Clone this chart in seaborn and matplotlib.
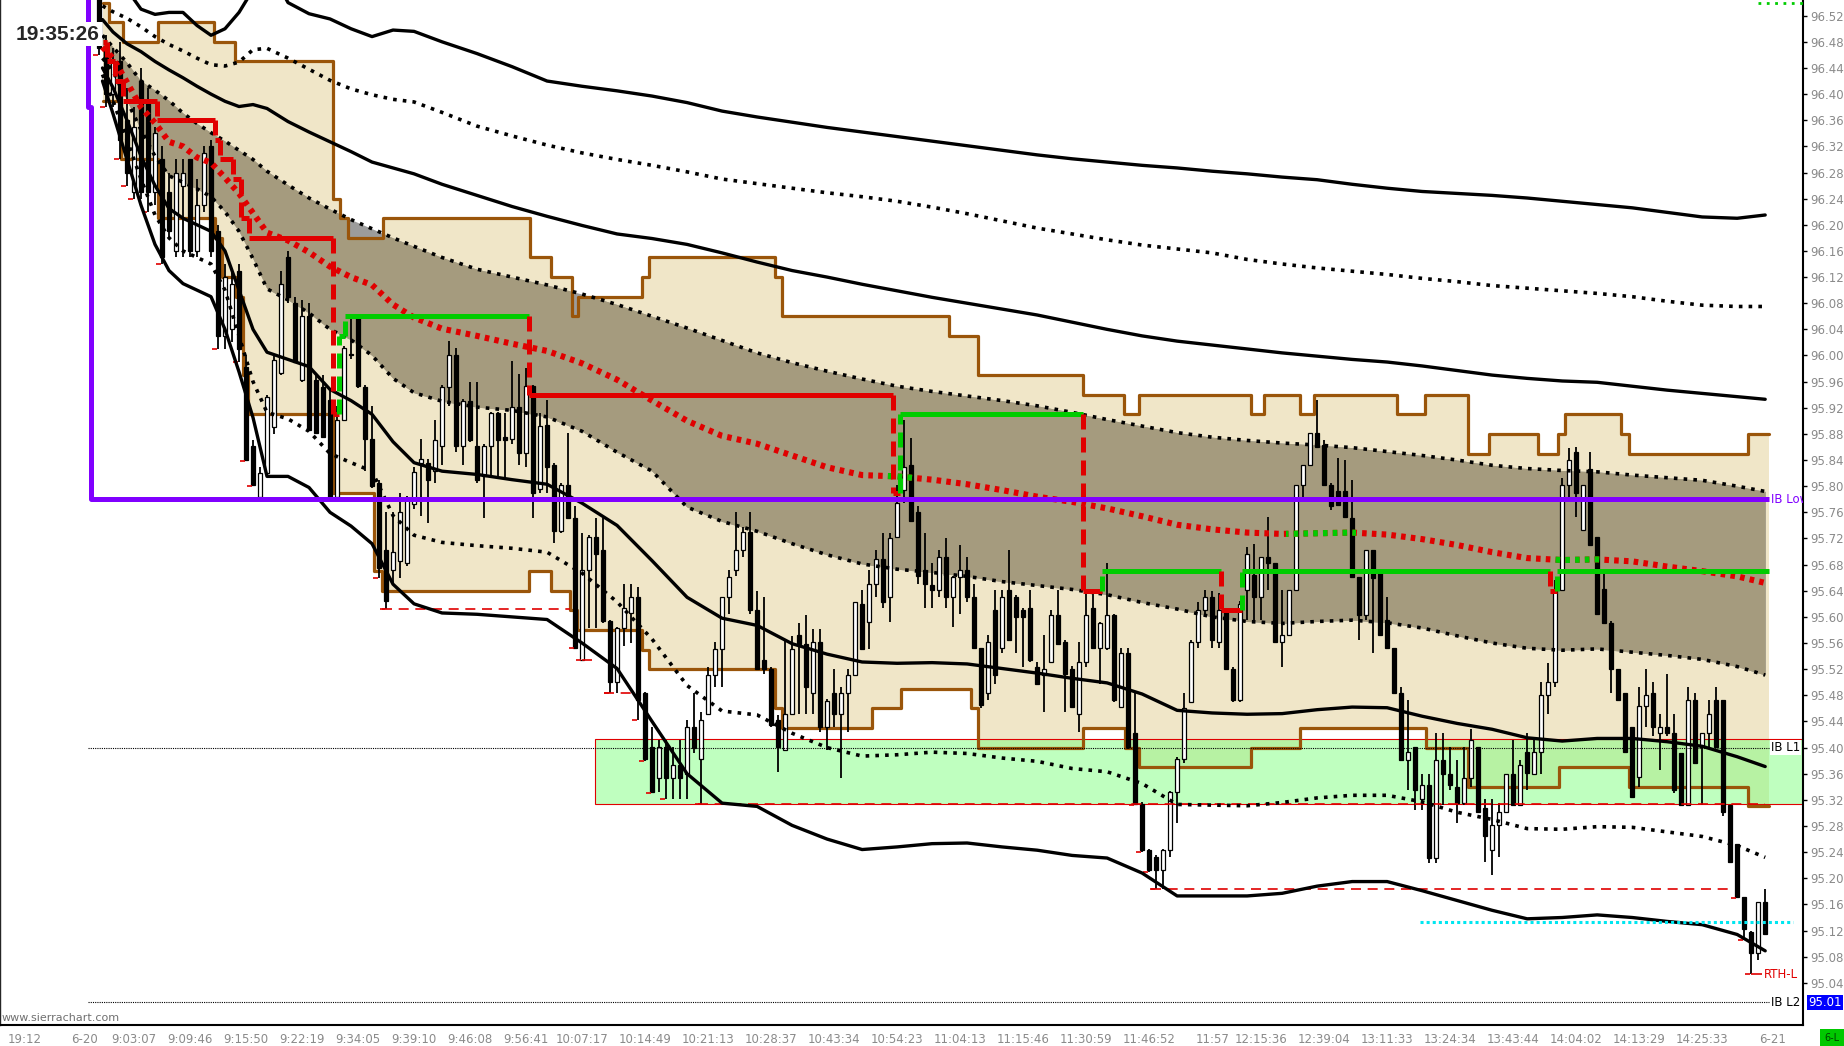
import numpy as np
import pandas as pd
import matplotlib
matplotlib.use("Agg")
import matplotlib.pyplot as plt
from matplotlib import font_manager
from matplotlib.patches import Rectangle
import seaborn as sns

# ---------------- candles (x = bar index 1..239) ----------------
opens = [
    96.545, 96.470, 96.400, 96.450, 96.360, 96.250, 96.420, 96.390, 96.250, 96.300,
    96.250, 96.160, 96.260, 96.300, 96.160, 96.230, 96.320, 96.190, 96.030, 96.040,
    96.130, 95.983, 95.861, 95.784, 95.820, 95.891, 95.973, 96.150, 96.080, 95.963,
    96.060, 95.963, 95.952, 95.932, 95.784, 95.902, 96.003, 96.060, 95.952, 95.872,
    95.805, 95.702, 95.672, 95.685, 95.682, 95.772, 95.835, 95.835, 95.823, 95.861,
    95.952, 96.001, 95.861, 95.931, 95.861, 95.815, 95.861, 95.912, 95.875, 95.872,
    95.921, 95.851, 95.953, 95.795, 95.893, 95.833, 95.731, 95.802, 95.751, 95.534,
    95.672, 95.723, 95.702, 95.593, 95.501, 95.583, 95.606, 95.631, 95.483, 95.401,
    95.353, 95.401, 95.353, 95.373, 95.360, 95.432, 95.383, 95.452, 95.511, 95.551,
    95.631, 95.671, 95.702, 95.730, 95.610, 95.534, 95.521, 95.442, 95.396, 95.452,
    95.572, 95.559, 95.483, 95.562, 95.432, 95.483, 95.452, 95.483, 95.511, 95.620,
    95.592, 95.651, 95.689, 95.631, 95.723, 95.794, 95.832, 95.761, 95.671, 95.649,
    95.641, 95.692, 95.631, 95.661, 95.671, 95.631, 95.552, 95.483, 95.610, 95.552,
    95.641, 95.631, 95.610, 95.613, 95.524, 95.511, 95.531, 95.603, 95.562, 95.521,
    95.452, 95.531, 95.613, 95.552, 95.552, 95.603, 95.462, 95.544, 95.422, 95.314,
    95.243, 95.233, 95.212, 95.243, 95.332, 95.383, 95.470, 95.562, 95.610, 95.631,
    95.562, 95.610, 95.521, 95.473, 95.641, 95.664, 95.631, 95.692, 95.682, 95.562,
    95.572, 95.641, 95.802, 95.832, 95.881, 95.863, 95.802, 95.792, 95.792, 95.751,
    95.661, 95.603, 95.702, 95.672, 95.595, 95.552, 95.483, 95.381, 95.401, 95.321,
    95.343, 95.231, 95.381, 95.360, 95.340, 95.315, 95.353, 95.401, 95.307, 95.243,
    95.281, 95.302, 95.360, 95.312, 95.394, 95.360, 95.394, 95.480, 95.500, 95.641,
    95.802, 95.853, 95.733, 95.827, 95.723, 95.643, 95.590, 95.521, 95.483, 95.432,
    95.355, 95.463, 95.483, 95.422, 95.432, 95.422, 95.391, 95.312, 95.473, 95.401,
    95.422, 95.473, 95.473, 95.312, 95.253, 95.172, 95.118, 95.085, 95.164,
]
highs = [
    96.548, 96.490, 96.470, 96.480, 96.410, 96.380, 96.440, 96.410, 96.350, 96.320,
    96.280, 96.300, 96.300, 96.300, 96.270, 96.320, 96.330, 96.200, 96.140, 96.130,
    96.140, 96.000, 95.870, 95.830, 95.940, 96.000, 96.130, 96.160, 96.090, 96.085,
    96.080, 95.970, 95.970, 95.950, 95.922, 96.014, 96.060, 96.062, 95.955, 95.922,
    95.810, 95.760, 95.760, 95.790, 95.785, 95.830, 95.872, 95.841, 95.902, 95.955,
    96.022, 96.011, 95.933, 95.960, 95.960, 95.864, 95.914, 95.914, 95.912, 95.991,
    95.971, 95.981, 95.955, 95.912, 95.932, 95.835, 95.805, 95.881, 95.769, 95.728,
    95.725, 95.751, 95.751, 95.595, 95.585, 95.651, 95.651, 95.646, 95.485, 95.432,
    95.411, 95.411, 95.401, 95.411, 95.442, 95.483, 95.455, 95.523, 95.562, 95.631,
    95.671, 95.760, 95.738, 95.760, 95.640, 95.631, 95.523, 95.450, 95.564, 95.571,
    95.590, 95.603, 95.582, 95.582, 95.474, 95.521, 95.493, 95.521, 95.623, 95.641,
    95.671, 95.702, 95.728, 95.728, 95.802, 95.901, 95.873, 95.770, 95.728, 95.682,
    95.702, 95.720, 95.663, 95.710, 95.692, 95.651, 95.552, 95.572, 95.641, 95.641,
    95.702, 95.633, 95.613, 95.641, 95.531, 95.572, 95.610, 95.641, 95.565, 95.525,
    95.562, 95.641, 95.641, 95.592, 95.682, 95.605, 95.552, 95.552, 95.483, 95.316,
    95.245, 95.235, 95.245, 95.334, 95.385, 95.483, 95.564, 95.623, 95.641, 95.640,
    95.636, 95.612, 95.523, 95.625, 95.707, 95.712, 95.692, 95.753, 95.682, 95.641,
    95.641, 95.802, 95.832, 95.881, 95.932, 95.871, 95.805, 95.843, 95.840, 95.809,
    95.661, 95.702, 95.702, 95.672, 95.631, 95.552, 95.493, 95.473, 95.401, 95.360,
    95.360, 95.422, 95.422, 95.401, 95.381, 95.401, 95.429, 95.401, 95.322, 95.322,
    95.315, 95.360, 95.411, 95.381, 95.422, 95.411, 95.500, 95.529, 95.656, 95.812,
    95.858, 95.860, 95.802, 95.853, 95.723, 95.672, 95.593, 95.521, 95.483, 95.432,
    95.493, 95.521, 95.501, 95.452, 95.513, 95.452, 95.391, 95.493, 95.483, 95.422,
    95.473, 95.493, 95.473, 95.312, 95.253, 95.172, 95.120, 95.164, 95.184,
]
lows = [
    96.460, 96.380, 96.380, 96.300, 96.260, 96.240, 96.240, 96.220, 96.230, 96.140,
    96.180, 96.150, 96.150, 96.150, 96.150, 96.220, 96.150, 96.010, 96.010, 96.020,
    95.990, 95.838, 95.800, 95.781, 95.815, 95.880, 95.970, 96.080, 95.988, 95.960,
    95.886, 95.880, 95.875, 95.781, 95.780, 95.900, 95.994, 95.950, 95.823, 95.798,
    95.660, 95.612, 95.650, 95.660, 95.678, 95.765, 95.754, 95.744, 95.805, 95.833,
    95.922, 95.853, 95.833, 95.868, 95.805, 95.751, 95.815, 95.815, 95.812, 95.864,
    95.833, 95.830, 95.751, 95.790, 95.790, 95.713, 95.728, 95.750, 95.552, 95.534,
    95.583, 95.583, 95.590, 95.483, 95.483, 95.555, 95.560, 95.442, 95.380, 95.330,
    95.332, 95.322, 95.322, 95.322, 95.322, 95.391, 95.314, 95.452, 95.493, 95.493,
    95.605, 95.663, 95.692, 95.605, 95.518, 95.513, 95.432, 95.362, 95.396, 95.452,
    95.452, 95.452, 95.452, 95.424, 95.396, 95.432, 95.353, 95.424, 95.511, 95.551,
    95.551, 95.631, 95.613, 95.592, 95.720, 95.774, 95.746, 95.650, 95.613, 95.613,
    95.631, 95.613, 95.585, 95.605, 95.623, 95.552, 95.460, 95.473, 95.498, 95.544,
    95.564, 95.544, 95.524, 95.531, 95.498, 95.455, 95.531, 95.559, 95.455, 95.460,
    95.424, 95.524, 95.552, 95.498, 95.550, 95.470, 95.460, 95.398, 95.312, 95.240,
    95.210, 95.183, 95.183, 95.233, 95.284, 95.376, 95.468, 95.552, 95.605, 95.552,
    95.552, 95.518, 95.470, 95.470, 95.595, 95.593, 95.595, 95.641, 95.562, 95.524,
    95.570, 95.641, 95.784, 95.832, 95.860, 95.802, 95.764, 95.771, 95.753, 95.661,
    95.565, 95.595, 95.544, 95.572, 95.552, 95.483, 95.381, 95.335, 95.304, 95.304,
    95.223, 95.223, 95.312, 95.335, 95.284, 95.312, 95.340, 95.300, 95.225, 95.205,
    95.233, 95.300, 95.312, 95.310, 95.335, 95.360, 95.360, 95.452, 95.493, 95.641,
    95.784, 95.753, 95.733, 95.710, 95.605, 95.590, 95.483, 95.473, 95.394, 95.325,
    95.340, 95.432, 95.417, 95.366, 95.417, 95.330, 95.312, 95.312, 95.376, 95.312,
    95.401, 95.401, 95.295, 95.225, 95.170, 95.105, 95.053, 95.075, 95.115,
]
closes = [
    96.470, 96.400, 96.450, 96.330, 96.280, 96.350, 96.250, 96.250, 96.340, 96.150,
    96.190, 96.280, 96.280, 96.160, 96.230, 96.310, 96.160, 96.030, 96.120, 96.110,
    96.010, 95.840, 95.802, 95.820, 95.937, 95.993, 96.110, 96.090, 95.990, 96.060,
    95.886, 95.881, 95.876, 95.784, 95.902, 96.011, 96.000, 95.953, 95.872, 95.800,
    95.675, 95.625, 95.700, 95.760, 95.782, 95.821, 95.841, 95.810, 95.871, 95.952,
    96.001, 95.861, 95.931, 95.871, 95.810, 95.861, 95.912, 95.871, 95.870, 95.921,
    95.851, 95.953, 95.790, 95.892, 95.830, 95.731, 95.802, 95.751, 95.552, 95.672,
    95.723, 95.697, 95.593, 95.501, 95.583, 95.613, 95.631, 95.473, 95.383, 95.332,
    95.401, 95.353, 95.373, 95.353, 95.432, 95.399, 95.442, 95.511, 95.551, 95.631,
    95.661, 95.702, 95.730, 95.610, 95.521, 95.521, 95.434, 95.401, 95.452, 95.551,
    95.559, 95.493, 95.562, 95.432, 95.472, 95.452, 95.483, 95.511, 95.623, 95.551,
    95.651, 95.689, 95.623, 95.720, 95.774, 95.830, 95.746, 95.662, 95.651, 95.641,
    95.692, 95.631, 95.661, 95.671, 95.631, 95.552, 95.465, 95.562, 95.511, 95.631,
    95.564, 95.600, 95.600, 95.534, 95.498, 95.521, 95.603, 95.559, 95.513, 95.462,
    95.531, 95.603, 95.552, 95.590, 95.603, 95.473, 95.544, 95.401, 95.314, 95.243,
    95.212, 95.212, 95.243, 95.332, 95.383, 95.460, 95.562, 95.610, 95.631, 95.564,
    95.610, 95.521, 95.473, 95.620, 95.697, 95.631, 95.692, 95.682, 95.562, 95.572,
    95.641, 95.802, 95.832, 95.881, 95.860, 95.802, 95.769, 95.771, 95.753, 95.661,
    95.603, 95.702, 95.659, 95.572, 95.552, 95.483, 95.381, 95.394, 95.335, 95.343,
    95.231, 95.381, 95.360, 95.343, 95.315, 95.353, 95.411, 95.302, 95.264, 95.281,
    95.302, 95.360, 95.312, 95.373, 95.361, 95.394, 95.480, 95.500, 95.641, 95.802,
    95.840, 95.789, 95.802, 95.710, 95.605, 95.590, 95.521, 95.473, 95.394, 95.325,
    95.463, 95.480, 95.432, 95.432, 95.422, 95.335, 95.312, 95.473, 95.376, 95.422,
    95.452, 95.401, 95.302, 95.225, 95.172, 95.123, 95.085, 95.164, 95.115,
]

# ---------------- time axis ----------------
tick_bars = [-12, -1, 6, 14, 22, 30, 38, 46, 54, 62, 70, 79, 88, 97, 106, 115,
             124, 133, 142, 151, 160, 167, 176, 185, 194, 203, 212, 221, 230, 240]
tick_labels = ["19:12", "6-20", "9:03:07", "9:09:46", "9:15:50", "9:22:19", "9:34:05",
               "9:39:10", "9:46:08", "9:56:41", "10:07:17", "10:14:49", "10:21:13",
               "10:28:37", "10:43:34", "10:54:23", "11:04:13", "11:15:46", "11:30:59",
               "11:46:52", "11:57", "12:15:36", "12:39:04", "13:11:33", "13:24:34",
               "13:43:44", "14:04:02", "14:13:29", "14:25:33", "6-21"]

# ---------------- VWAP and std-dev bands, read at band_x ----------------
band_x = [1.5, 3, 5, 7, 9, 11, 13, 15, 17, 19, 21, 23, 25, 28, 31, 34, 37, 40, 43, 46,
          50, 55, 60, 65, 70, 75, 80, 85, 90, 95, 100, 105, 110, 115, 120, 125, 130,
          135, 140, 145, 150, 155, 160, 165, 170, 175, 180, 185, 190, 195, 200, 205,
          210, 215, 220, 225, 230, 235, 239]
nan = np.nan
vwap = [96.472, 96.455, 96.418, 96.380, 96.356, 96.327, 96.320, 96.303, 96.295, 96.272,
        96.248, 96.218, 96.188, 96.176, 96.158, 96.136, 96.120, 96.108, 96.078, 96.058,
        96.041, 96.030, 96.018, 96.007, 95.988, 95.963, 95.931, 95.900, 95.877, 95.865,
        95.847, 95.829, 95.817, 95.815, 95.810, 95.803, 95.794, 95.784, 95.776, 95.766,
        95.754, 95.741, 95.734, 95.729, 95.727, 95.728, 95.729, 95.726, 95.719, 95.710,
        95.699, 95.690, 95.687, 95.688, 95.685, 95.677, 95.670, 95.662, 95.652]
band_p4 = [nan, nan, 96.56, 96.53, 96.522, 96.525, 96.525, 96.505, 96.490, 96.500,
           96.525, 96.56, 96.60, 96.540, 96.523, 96.515, 96.500, 96.488, 96.498, 96.496,
           96.480, 96.462, 96.442, 96.420, 96.412, 96.405, 96.397, 96.387, 96.374, 96.365,
           96.357, 96.349, 96.342, 96.335, 96.328, 96.321, 96.314, 96.307, 96.301, 96.296,
           96.291, 96.287, 96.282, 96.278, 96.273, 96.269, 96.262, 96.256, 96.251, 96.248,
           96.245, 96.241, 96.236, 96.231, 96.226, 96.219, 96.212, 96.210, 96.215]
band_p3 = [96.535, 96.526, 96.516, 96.503, 96.488, 96.476, 96.466, 96.455, 96.445, 96.443,
           96.449, 96.468, 96.470, 96.455, 96.438, 96.421, 96.408, 96.399, 96.392, 96.388,
           96.372, 96.351, 96.336, 96.322, 96.310, 96.300, 96.291, 96.281, 96.270, 96.263,
           96.256, 96.249, 96.243, 96.236, 96.227, 96.217, 96.206, 96.195, 96.186, 96.177,
           96.169, 96.163, 96.157, 96.147, 96.140, 96.134, 96.129, 96.124, 96.118, 96.113,
           96.107, 96.103, 96.099, 96.095, 96.090, 96.083, 96.077, 96.075, 96.075]
band_p2 = [96.514, 96.495, 96.477, 96.465, 96.450, 96.437, 96.425, 96.412, 96.400, 96.389,
           96.381, 96.384, 96.378, 96.358, 96.342, 96.327, 96.312, 96.296, 96.287, 96.278,
           96.262, 96.245, 96.228, 96.213, 96.199, 96.186, 96.179, 96.170, 96.157, 96.143,
           96.130, 96.120, 96.109, 96.099, 96.089, 96.080, 96.071, 96.062, 96.051, 96.040,
           96.030, 96.022, 96.016, 96.010, 96.004, 95.999, 95.994, 95.990, 95.984, 95.977,
           95.970, 95.965, 95.961, 95.959, 95.953, 95.947, 95.942, 95.937, 95.933]
band_p1 = [96.490, 96.472, 96.448, 96.420, 96.406, 96.390, 96.371, 96.355, 96.341, 96.328,
           96.314, 96.300, 96.282, 96.261, 96.241, 96.224, 96.208, 96.194, 96.180, 96.167,
           96.150, 96.132, 96.120, 96.108, 96.094, 96.078, 96.060, 96.042, 96.023, 96.004,
           95.989, 95.976, 95.964, 95.953, 95.945, 95.938, 95.931, 95.923, 95.913, 95.902,
           95.892, 95.882, 95.875, 95.870, 95.866, 95.863, 95.859, 95.853, 95.847, 95.840,
           95.832, 95.827, 95.824, 95.822, 95.817, 95.813, 95.809, 95.800, 95.792]
band_m1 = [96.455, 96.435, 96.390, 96.345, 96.305, 96.275, 96.265, 96.255, 96.243, 96.220,
           96.190, 96.148, 96.102, 96.085, 96.065, 96.040, 96.024, 96.000, 95.965, 95.943,
           95.930, 95.921, 95.916, 95.906, 95.884, 95.852, 95.823, 95.768, 95.746, 95.731,
           95.712, 95.695, 95.681, 95.673, 95.668, 95.662, 95.654, 95.648, 95.642, 95.634,
           95.622, 95.612, 95.600, 95.593, 95.590, 95.593, 95.595, 95.591, 95.583, 95.571,
           95.560, 95.552, 95.549, 95.551, 95.546, 95.541, 95.535, 95.524, 95.511]
band_m2 = [96.440, 96.410, 96.360, 96.305, 96.260, 96.225, 96.210, 96.200, 96.190, 96.160,
           96.100, 96.040, 96.005, 95.994, 95.983, 95.948, 95.931, 95.910, 95.868, 95.836,
           95.823, 95.818, 95.810, 95.803, 95.774, 95.740, 95.686, 95.630, 95.598, 95.587,
           95.559, 95.543, 95.531, 95.529, 95.530, 95.528, 95.521, 95.514, 95.506, 95.499,
           95.482, 95.457, 95.453, 95.451, 95.452, 95.458, 95.462, 95.461, 95.448, 95.437,
           95.428, 95.415, 95.410, 95.414, 95.414, 95.409, 95.402, 95.386, 95.371]
band_m3 = [96.430, 96.390, 96.330, 96.270, 96.215, 96.180, 96.160, 96.150, 96.140, 96.100,
           96.030, 95.960, 95.913, 95.903, 95.884, 95.850, 95.836, 95.823, 95.755, 95.725,
           95.714, 95.709, 95.705, 95.699, 95.667, 95.623, 95.566, 95.495, 95.456, 95.450,
           95.422, 95.400, 95.387, 95.389, 95.393, 95.391, 95.384, 95.379, 95.368, 95.363,
           95.345, 95.313, 95.312, 95.311, 95.316, 95.323, 95.327, 95.327, 95.317, 95.301,
           95.290, 95.276, 95.275, 95.279, 95.278, 95.271, 95.264, 95.250, 95.232]
band_m4 = [96.420, 96.370, 96.300, 96.230, 96.170, 96.130, 96.110, 96.100, 96.090, 96.040,
           95.975, 95.905, 95.815, 95.815, 95.798, 95.760, 95.739, 95.712, 95.650, 95.620,
           95.606, 95.604, 95.600, 95.596, 95.560, 95.521, 95.440, 95.360, 95.315, 95.310,
           95.281, 95.260, 95.244, 95.248, 95.253, 95.254, 95.248, 95.243, 95.235, 95.231,
           95.208, 95.173, 95.173, 95.173, 95.177, 95.188, 95.195, 95.195, 95.181, 95.166,
           95.151, 95.138, 95.140, 95.144, 95.140, 95.134, 95.129, 95.114, 95.089]
vwap_green = [(113.5, 117.5), (170.5, 180.5), (208.5, 215.5)]

# ---------------- value-area steps (edges, levels) ----------------
va_up_x = [1.6, 2.4, 4.5, 9.4, 17.4, 20.4, 34.4, 35.4, 36.5, 41.5, 62.5, 65.5, 68.5,
           69.4, 78.6, 79.5, 97.5, 98.5, 122.4, 126.5, 141.5, 147.4, 149.5, 165.5,
           167.4, 172.5, 174.5, 186.4, 190.4, 196.5, 199.5, 206.5, 209.4, 210.4, 218.4,
           219.5, 236.5, 239.5]
va_hi = [96.54, 96.51, 96.48, 96.51, 96.48, 96.45, 96.24, 96.21, 96.18, 96.21, 96.15,
         96.12, 96.06, 96.09, 96.12, 96.15, 96.12, 96.06, 96.03, 95.97, 95.94, 95.91,
         95.94, 95.91, 95.94, 95.91, 95.94, 95.91, 95.94, 95.85, 95.88, 95.85, 95.88,
         95.91, 95.88, 95.85, 95.88]
va_lo_x = [1.6, 4.2, 9.4, 17.5, 18.6, 20.6, 21.5, 22.3, 34.4, 40.3, 41.4, 62.4, 65.5,
           68.3, 69.3, 78.5, 79.5, 97.6, 98.6, 111.4, 115.5, 125.6, 126.6, 141.5, 147.5,
           149.5, 165.5, 172.5, 190.5, 196.6, 209.5, 219.6, 236.6, 239.6]
va_lo = [96.39, 96.30, 96.21, 96.18, 96.12, 96.09, 95.97, 95.91, 95.79, 95.67, 95.64,
         95.67, 95.64, 95.61, 95.58, 95.55, 95.52, 95.46, 95.43, 95.46, 95.49, 95.46,
         95.40, 95.43, 95.40, 95.37, 95.40, 95.43, 95.40, 95.34, 95.37, 95.34, 95.31]

# ---------------- developing POC steps ----------------
poc_x = [1.6, 2.2, 3.3, 4.4, 9.3, 17.5, 18.3, 20.2, 21.3, 22.4, 34.4, 35.3, 36.2,
         62.4, 114.4, 115.4, 141.5, 144.3, 161.3, 164.3, 208.3, 209.3, 239.6]
poc_lvl = [96.48, 96.45, 96.42, 96.39, 96.36, 96.33, 96.30, 96.27, 96.21, 96.18,
           95.91, 96.03, 96.06, 95.94, 95.79, 95.91, 95.64, 95.67, 95.61, 95.67,
           95.64, 95.67]

# ---------------- horizontal levels ----------------
ib_low = 95.78
ib_l1 = 95.40
ib_l2 = 95.01
zone_x0, zone_lo, zone_hi = 71.9, 95.313, 95.413
swing_lows = [(23.4, 40.3, 95.781), (41.4, 68.3, 95.612), (70.0, 72.0, 95.534),
              (73.2, 77.3, 95.483), (86.6, 239.0, 95.313), (151.3, 234.6, 95.183)]
cyan_x0, cyan_x1, cyan_y = 189.7, 243.0, 95.133
rth_low = 95.053

# ---------------- style ----------------
sns.set_style("white")
names = {f.name for f in font_manager.fontManager.ttflist}
NARROW = "Liberation Sans Narrow" if "Liberation Sans Narrow" in names else "DejaVu Sans"
SMALL = 10.5 if NARROW != "DejaVu Sans" else 8.5
plt.rcParams["font.family"] = [NARROW, "DejaVu Sans"]

BEIGE = "#f0e6c8"
BAND = "#a59b7e"
BAND_OUT = "#9c9c9c"
BROWN = "#9a550a"
RED = "#e00000"
GREEN = "#00cc00"
PURPLE = "#8000ff"
GREYTXT = "#8a8a8a"
DOT = (0, (1, 1.7))

fig = plt.figure(figsize=(18.44, 10.46), dpi=100)
ax = fig.add_axes([0.0, 21 / 1046, 1803 / 1844, 1025 / 1046])
ax.set_xlim(-13.14, 244.4)
ax.set_ylim(94.9755, 96.544)

# value area fill
xs = np.union1d(va_up_x, va_lo_x)
iu = np.clip(np.searchsorted(va_up_x, xs, side="right") - 1, 0, len(va_hi) - 1)
il = np.clip(np.searchsorted(va_lo_x, xs, side="right") - 1, 0, len(va_lo) - 1)
va_poly = ax.fill_between(xs, np.array(va_lo)[il], np.array(va_hi)[iu], step="post",
                          color=BEIGE, lw=0, zorder=1)

# 1-sigma band: neutral grey outside the value area, brownish grey inside it
ax.fill_between(band_x, band_m1, band_p1, color=BAND_OUT, lw=0, zorder=1.4)
inner = ax.fill_between(band_x, band_m1, band_p1, color=BAND, lw=0, zorder=1.5)
inner.set_clip_path(va_poly.get_paths()[0], transform=ax.transData)

# IB L1 zone
ax.add_patch(Rectangle((zone_x0, zone_lo), 250 - zone_x0, zone_hi - zone_lo,
                       facecolor=(0.5, 1.0, 0.5), alpha=0.5, lw=0, zorder=1.8))
ax.add_patch(Rectangle((zone_x0, zone_lo), 250 - zone_x0, zone_hi - zone_lo,
                       fill=False, edgecolor=RED, lw=0.8, zorder=1.9))

ax.step(va_up_x, va_hi + [va_hi[-1]], where="post", color=BROWN, lw=2.3, zorder=2)
ax.step(va_lo_x, va_lo + [va_lo[-1]], where="post", color=BROWN, lw=2.3, zorder=2)

# candles
bars = np.arange(1, len(opens) + 1)
o, h, l, c = (np.array(v) for v in (opens, highs, lows, closes))
up = c >= o
ax.vlines(bars, l, h, color="black", lw=1.3, zorder=2.5)
ax.bar(bars, np.maximum(np.abs(c - o), 0.002), bottom=np.minimum(o, c), width=0.62,
       color=np.where(up, "white", "black"), edgecolor="black", linewidth=0.9, zorder=2.6)

# red marks at new session lows and the swing-low lines
run_min = np.minimum.accumulate(l)
new_low = l < np.r_[np.inf, run_min[:-1]]
ax.hlines(l[new_low], bars[new_low] - 0.9, bars[new_low] - 0.1, color=RED, lw=1.2, zorder=2.7)
for x0, x1, y in swing_lows:
    ax.hlines(y, x0, x1, color=RED, lw=1.2, linestyles=[(0, (6, 4))], zorder=2.7)

# std-dev band lines (seaborn)
bands = pd.DataFrame({"bar": band_x, "p4": band_p4, "p3": band_p3, "p2": band_p2,
                      "m2": band_m2, "m3": band_m3, "m4": band_m4,
                      "p1": band_p1, "m1": band_m1})
for col, solid in [("p4", True), ("p3", False), ("p2", True), ("p1", False),
                   ("m1", False), ("m2", True), ("m3", False), ("m4", True)]:
    sns.lineplot(data=bands, x="bar", y=col, ax=ax, color="black",
                 lw=2.4 if solid else 2.6, estimator=None, sort=False, legend=False)
    ln = ax.lines[-1]
    ln.set_zorder(3)
    if not solid:
        ln.set_linestyle(DOT)
ax.set_xlabel("")
ax.set_ylabel("")

# VWAP (green where price traded above it)
ax.plot(band_x, vwap, color=RED, lw=4.4, ls=(0, (0.75, 0.85)), zorder=3.5)
for a, b in vwap_green:
    g, = ax.plot(band_x, vwap, color=GREEN, lw=4.4, ls=(0, (0.75, 0.85)), zorder=3.55)
    g.set_clip_path(Rectangle((a, 94.0), b - a, 3.0, transform=ax.transData))

# developing POC
for i, lvl in enumerate(poc_lvl):
    col = GREEN if i > 0 and lvl > poc_lvl[i - 1] else RED
    ax.hlines(lvl, poc_x[i], poc_x[i + 1], color=col, lw=3.6, zorder=3.6)
    if i > 0:
        ax.plot([poc_x[i], poc_x[i]], [poc_lvl[i - 1], lvl], color=col, lw=3.6,
                ls=(0, (3, 1.6)), zorder=3.6)

# IB lines and other levels
ax.plot([-0.5, -0.5], [96.38, 96.6], color=PURPLE, lw=3.6, zorder=3.7)
ax.plot([-0.2, -0.2], [ib_low, 96.38], color=PURPLE, lw=3.6, zorder=3.7)
ax.hlines(ib_low, -0.2, 239.6, color=PURPLE, lw=3.6, zorder=3.7)
ax.hlines([ib_l1, ib_l2], -0.6, 239.6, color="black", lw=0.8, linestyles=[(0, (1, 1))], zorder=3.7)
ax.hlines(cyan_y, cyan_x0, cyan_x1, color="#00e6f0", lw=2.2, linestyles=[(0, (1, 1))], zorder=3.7)
ax.hlines(96.540, 238, 244.4, color=GREEN, lw=2, linestyles=[(0, (1, 2))], zorder=3.7)
ax.hlines(rth_low, 237, 238.6, color=RED, lw=1.2, zorder=3.7)

# labels on the right edge
ax.text(239.8, ib_low, "IB Low", color=PURPLE, fontsize=SMALL, va="center", ha="left",
        clip_on=True, zorder=6)
for y, s in [(ib_l1, "IB L1"), (ib_l2, "IB L2")]:
    ax.text(239.8, y, s, color="black", fontsize=SMALL, va="center", ha="left", zorder=6,
            bbox=dict(boxstyle="square,pad=0.1", fc="white", ec="none"))
ax.text(238.8, rth_low, "RTH-L", color=RED, fontsize=SMALL, va="center", ha="left", zorder=6)
ax.text(1.003, ib_l2, "95.01", transform=ax.get_yaxis_transform(), color="white",
        fontsize=SMALL, va="center", ha="left", zorder=7, clip_on=False,
        bbox=dict(boxstyle="square,pad=0.12", fc="#0000ff", ec="none"))

# axes
ax.set_xticks(tick_bars)
ax.set_xticklabels(tick_labels)
ax.get_xticklabels()[0].set_horizontalalignment("left")
ax.tick_params(axis="x", direction="out", length=4, width=1, color="black",
               labelcolor=GREYTXT, labelsize=SMALL, pad=2)
price_ticks = np.round(np.arange(95.04, 96.521, 0.04), 2)
ax.yaxis.tick_right()
ax.set_yticks(price_ticks)
ax.set_yticklabels([f"{p:.2f}" for p in price_ticks])
ax.tick_params(axis="y", direction="out", length=3, width=1, color="black",
               labelcolor=GREYTXT, labelsize=SMALL, pad=2)
ax.spines["top"].set_visible(False)
ax.spines["left"].set_linewidth(1.0)
for s in ("right", "bottom"):
    ax.spines[s].set_linewidth(1.5)
    ax.spines[s].set_color("black")

fig.text(16 / 1844, 1 - 34 / 1046, "19:35:26", fontsize=15, fontweight="bold",
         family=["Liberation Sans", "DejaVu Sans"], va="center", ha="left",
         bbox=dict(boxstyle="square,pad=0.1", fc="white", ec="none"), zorder=10)
fig.text(2 / 1844, 1 - 1018 / 1046, "www.sierrachart.com", color="#707070",
         fontsize=SMALL - 0.5, va="center", ha="left")
fig.patches.append(Rectangle((1820 / 1844, 0), 24 / 1844, 17 / 1046,
                             transform=fig.transFigure, fc="#00c800", ec="none"))
fig.text(1832 / 1844, 8 / 1046, "6-L", fontsize=7, color="#004000", ha="center", va="center")

fig.savefig("out.png", dpi=100)
